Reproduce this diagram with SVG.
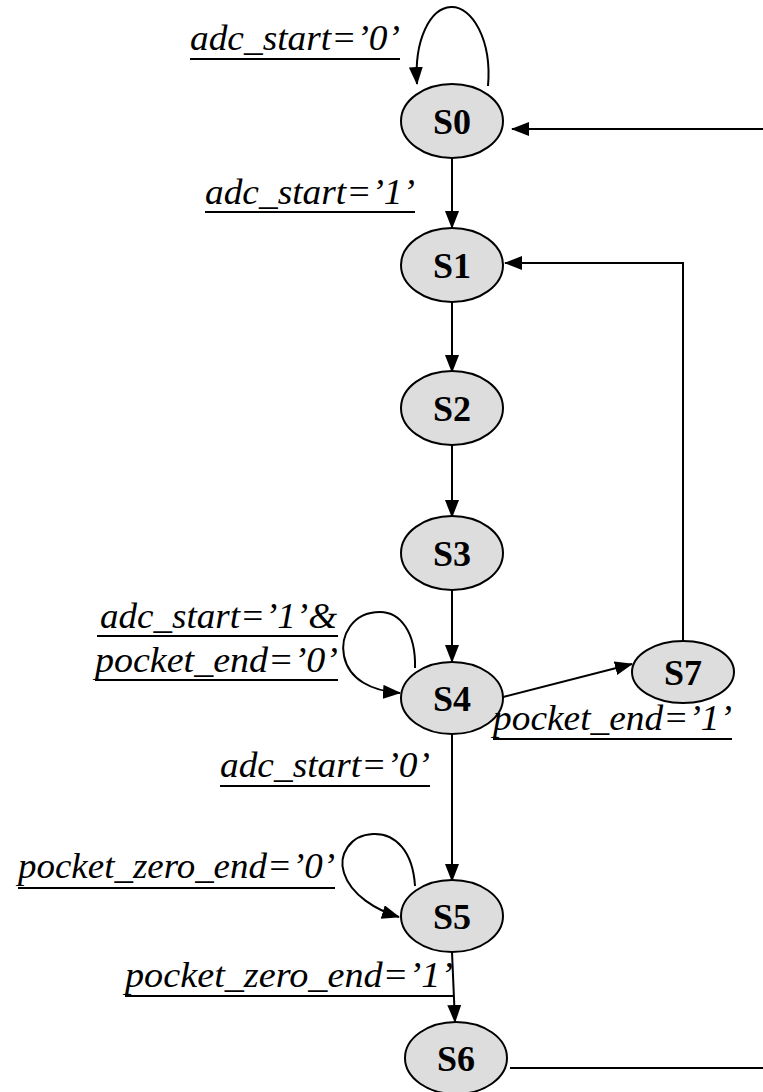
<svg xmlns="http://www.w3.org/2000/svg" width="763" height="1092" viewBox="0 0 763 1092">
<style>
.node ellipse{fill:#dddddd;stroke:#000;stroke-width:2}
.node text{font-family:"Liberation Serif","Times New Roman",serif;font-weight:bold;font-size:36px;text-anchor:middle;fill:#000}
.lbl{font-family:"Liberation Serif","Times New Roman",serif;font-style:italic;font-size:36px;fill:#000}
.ul{stroke:#000;stroke-width:2}
.edge{fill:none;stroke:#000;stroke-width:2}
</style>
<defs>
<marker id="ah" markerWidth="18" markerHeight="14" refX="17" refY="7" orient="auto" markerUnits="userSpaceOnUse">
<path d="M0,0 L18,7 L0,14 Z" fill="#000"/>
</marker>
</defs>
<rect width="763" height="1092" fill="#fff"/>
<g id="connectors">
<path class="edge" d="M488,86 C492,40 472,6 451,7 C430,8 414,40 417,84" marker-end="url(#ah)"/>
<line class="edge" x1="452" y1="157" x2="452" y2="228" marker-end="url(#ah)"/>
<line class="edge" x1="452" y1="301" x2="452" y2="372" marker-end="url(#ah)"/>
<line class="edge" x1="452" y1="444" x2="452" y2="517" marker-end="url(#ah)"/>
<line class="edge" x1="452" y1="589" x2="452" y2="662" marker-end="url(#ah)"/>
<line class="edge" x1="452" y1="734" x2="452" y2="881" marker-end="url(#ah)"/>
<line class="edge" x1="452" y1="952" x2="455" y2="1022" marker-end="url(#ah)"/>
<line class="edge" x1="503" y1="697" x2="632" y2="664" marker-end="url(#ah)"/>
<polyline class="edge" points="683,641 683,263 505,263" marker-end="url(#ah)"/>
<line class="edge" x1="763" y1="129" x2="512" y2="129" marker-end="url(#ah)"/>
<line class="edge" x1="510" y1="1068" x2="763" y2="1068"/>
<path class="edge" d="M415,668 C416,632 400,612 380,612 C352,612 340,636 344,656 C349,680 372,691 400,693" marker-end="url(#ah)"/>
<path class="edge" d="M415,886 C413,852 396,833 373,834 C350,835 338,855 344,873 C351,895 376,910 399,917" marker-end="url(#ah)"/>
</g>
<g id="S0" class="node"><ellipse cx="452" cy="121" rx="51" ry="37"/><text x="452" y="134">S0</text></g>
<g id="S1" class="node"><ellipse cx="452" cy="265" rx="51" ry="37"/><text x="452" y="278">S1</text></g>
<g id="S2" class="node"><ellipse cx="452" cy="408" rx="51" ry="37"/><text x="452" y="421">S2</text></g>
<g id="S3" class="node"><ellipse cx="452" cy="553" rx="51" ry="37"/><text x="452" y="566">S3</text></g>
<g id="S4" class="node"><ellipse cx="452" cy="698" rx="51" ry="36"/><text x="452" y="711">S4</text></g>
<g id="S5" class="node"><ellipse cx="452" cy="916" rx="51" ry="36"/><text x="452" y="929">S5</text></g>
<g id="S6" class="node"><ellipse cx="456" cy="1058" rx="51" ry="36"/><text x="456" y="1071">S6</text></g>
<g id="S7" class="node"><ellipse cx="683" cy="672" rx="51" ry="31"/><text x="683" y="685">S7</text></g>
<g id="labels">
<text class="lbl" x="190" y="50" textLength="210" lengthAdjust="spacingAndGlyphs">adc_start=’0’</text>
<line class="ul" x1="190" y1="59" x2="400" y2="59"/>
<text class="lbl" x="205" y="204" textLength="210" lengthAdjust="spacingAndGlyphs">adc_start=’1’</text>
<line class="ul" x1="205" y1="212" x2="415" y2="212"/>
<text class="lbl" x="100" y="628" textLength="237" lengthAdjust="spacingAndGlyphs">adc_start=’1’&amp;</text>
<line class="ul" x1="97" y1="636" x2="338" y2="636"/>
<text class="lbl" x="95" y="672" textLength="243" lengthAdjust="spacingAndGlyphs">pocket_end=’0’</text>
<line class="ul" x1="95" y1="680" x2="338" y2="680"/>
<text class="lbl" x="493" y="730" textLength="239" lengthAdjust="spacingAndGlyphs">pocket_end=’1’</text>
<line class="ul" x1="493" y1="739" x2="732" y2="739"/>
<text class="lbl" x="220" y="777" textLength="210" lengthAdjust="spacingAndGlyphs">adc_start=’0’</text>
<line class="ul" x1="220" y1="786" x2="430" y2="786"/>
<text class="lbl" x="18" y="878" textLength="317" lengthAdjust="spacingAndGlyphs">pocket_zero_end=’0’</text>
<line class="ul" x1="18" y1="888" x2="335" y2="888"/>
<text class="lbl" x="125" y="987" textLength="328" lengthAdjust="spacingAndGlyphs">pocket_zero_end=’1’</text>
<line class="ul" x1="125" y1="996" x2="454" y2="996"/>
</g>
</svg>
